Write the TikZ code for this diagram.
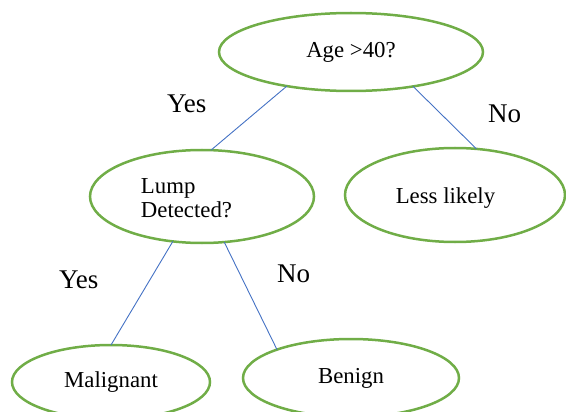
\documentclass[tikz,border=0pt]{standalone}
\usepackage{fontspec}
\setmainfont{Liberation Serif}
\usetikzlibrary{shapes.geometric}
\definecolor{ovalgreen}{HTML}{70AD47}
\definecolor{linkblue}{HTML}{4472C4}
\begin{document}
\begin{tikzpicture}[x=1pt,y=-1pt,
  oval/.style={ellipse, draw=ovalgreen, line width=2.5pt, inner sep=0pt, outer sep=0pt,
    font=\fontsize{22.8}{24}\selectfont},
  ovaltext/.style={font=\fontsize{22.8}{24}\selectfont, inner sep=0pt, align=left},
  link/.style={draw=linkblue, line width=0.9pt},
  branch/.style={font=\fontsize{27}{29}\selectfont, inner sep=0pt, anchor=base west}]
\useasboundingbox (0,0) rectangle (566,412);
\node[oval, minimum width=264pt, minimum height=78pt] (age) at (351,52) {Age >40?};
\node[oval, minimum width=224pt, minimum height=93pt,
  label={[ovaltext, xshift=-15.5pt, yshift=-2pt]center:Lump\\Detected?}] (lump) at (202,196.5) {};
\node[oval, minimum width=220pt, minimum height=94pt,
  label={[ovaltext, xshift=-9.5pt, yshift=-3pt]center:Less likely}] (less) at (455,195) {};
\node[oval, minimum width=198pt, minimum height=74pt] (mal) at (111,382) {Malignant};
\node[oval, minimum width=216pt, minimum height=78pt] (ben) at (351,378) {Benign};
\draw[link] (age.208) -- (lump.79);
\draw[link] (age.331) -- (less.65);
\draw[link] (lump.237) -- (mal.90);
\draw[link] (lump.296) -- (ben.159);
\node[branch] (y1) at (167,113) {Yes};
\node[branch] (n1) at (488,123) {No};
\node[branch] (y2) at (59,288) {Yes};
\node[branch] (n2) at (277,283) {No};
\end{tikzpicture}
\end{document}
